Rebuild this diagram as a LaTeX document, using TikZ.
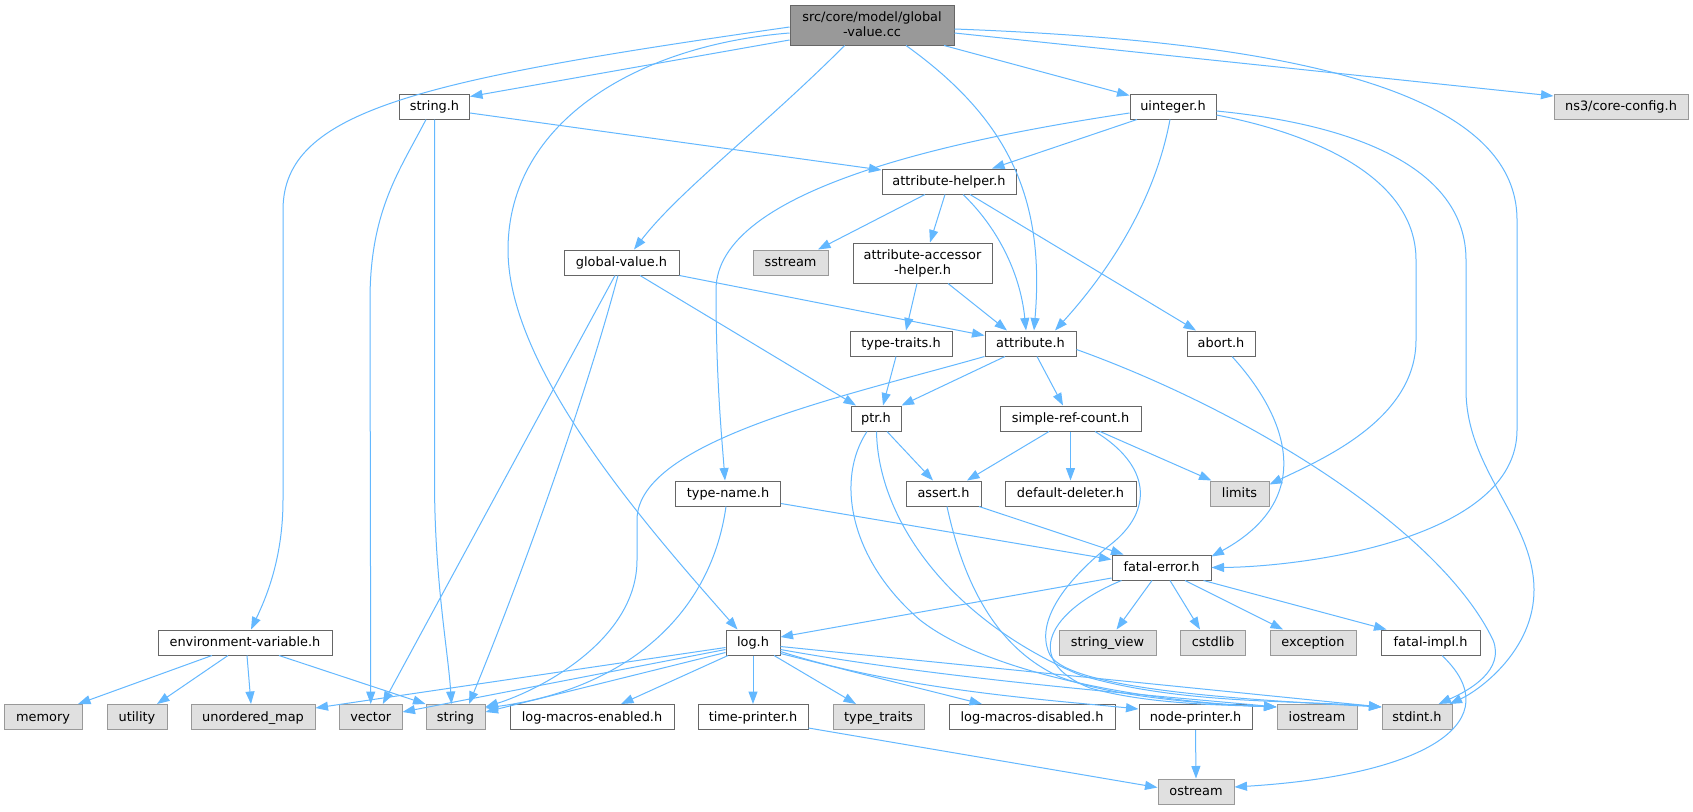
\documentclass[tikz,border=0pt]{standalone}
\usepackage{fontspec}
\setmainfont{DejaVu Sans}
\usetikzlibrary{arrows.meta}
\definecolor{edgec}{HTML}{63B8FF}
\definecolor{nodeb}{HTML}{666666}
\definecolor{grayb}{HTML}{999999}
\definecolor{grayf}{HTML}{E0E0E0}
\definecolor{mainf}{HTML}{999999}
\begin{document}
\begin{tikzpicture}[x=1pt,y=-1pt,
  box/.style={draw=nodeb, fill=white, line width=1pt, inner sep=0pt,
    minimum height=25pt, font=\fontsize{12.9}{15.5}\selectfont,
    text height=10.5pt, text depth=2.5pt},
  sys/.style={box, draw=grayb, fill=grayf},
  twoline/.style={box, minimum height=40pt, align=center, text height=26pt, text depth=2.5pt},
  edge/.style={draw=edgec, line width=1pt, -{Triangle[length=12.5pt,width=9pt]}}]
\useasboundingbox[fill=white] (0,0) rectangle (1693,811);
% nodes
\node[twoline, fill=mainf, minimum width=164pt] (main) at (872,25) {src/core/model/global\\-value.cc};
\node[box, minimum width=70pt] (stringh) at (434.5,106.5) {string.h};
\node[box, minimum width=86pt] (uinteger) at (1173,106.5) {uinteger.h};
\node[sys, minimum width=134pt] (ns3) at (1621,106.5) {ns3/core-config.h};
\node[box, minimum width=134pt] (attrhelper) at (949,181.5) {attribute-helper.h};
\node[box, minimum width=115pt] (globalvalue) at (621.5,262.5) {global-value.h};
\node[sys, minimum width=75pt] (sstream) at (790.5,262.5) {sstream};
\node[twoline, minimum width=139pt] (accessor) at (922.5,263) {attribute-accessor\\-helper.h};
\node[box, minimum width=102pt] (typetraits) at (901,343.5) {type-traits.h};
\node[box, minimum width=91pt] (attribute) at (1030.5,343.5) {attribute.h};
\node[box, minimum width=68pt] (abort) at (1221,343.5) {abort.h};
\node[box, minimum width=50pt] (ptr) at (876,418.5) {ptr.h};
\node[box, minimum width=141pt] (simpleref) at (1070.5,418.5) {simple-ref-count.h};
\node[box, minimum width=105pt] (typename) at (728,493.5) {type-name.h};
\node[box, minimum width=75pt] (assert) at (943.5,493.5) {assert.h};
\node[box, minimum width=131pt] (deleter) at (1070.5,493.5) {default-deleter.h};
\node[sys, minimum width=59pt] (limits) at (1239.5,493.5) {limits};
\node[box, minimum width=99pt] (fatalerror) at (1161.5,567.5) {fatal-error.h};
\node[box, minimum width=174pt] (envvar) at (245,642.5) {environment-variable.h};
\node[box, minimum width=54pt] (logh) at (753,642.5) {log.h};
\node[sys, minimum width=97pt] (stringview) at (1107.5,642.5) {string\_view};
\node[sys, minimum width=65pt] (cstdlib) at (1213,642.5) {cstdlib};
\node[sys, minimum width=86pt] (exception) at (1313,642.5) {exception};
\node[box, minimum width=99pt] (fatalimpl) at (1430.5,642.5) {fatal-impl.h};
\node[sys, minimum width=78pt] (memory) at (43,717) {memory};
\node[sys, minimum width=60pt] (utility) at (137,717) {utility};
\node[sys, minimum width=124pt] (umap) at (253,717) {unordered\_map};
\node[sys, minimum width=62.5pt] (vector) at (370.75,717) {vector};
\node[sys, minimum width=59pt] (string) at (455.5,717) {string};
\node[box, minimum width=164pt] (lme) at (592,717) {log-macros-enabled.h};
\node[box, minimum width=110pt] (timeprinter) at (753,717) {time-printer.h};
\node[sys, minimum width=91pt] (typetraitsstd) at (878.5,717) {type\_traits};
\node[box, minimum width=166pt] (lmd) at (1032,717) {log-macros-disabled.h};
\node[box, minimum width=113pt] (nodeprinter) at (1195.5,717) {node-printer.h};
\node[sys, minimum width=80pt] (iostream) at (1317,717) {iostream};
\node[sys, minimum width=70pt] (stdint) at (1417,717) {stdint.h};
\node[sys, minimum width=76pt] (ostream) at (1196,791.5) {ostream};
% main
\draw[edge] ([yshift=-15pt]main.west) -- ([yshift=-3pt]stringh.north east);
\draw[edge] ([yshift=-2pt]main.west) .. controls (420,80) and (283,110) .. (283,210) -- (283,500) .. controls (283,560) and (265,600) .. ([xshift=6pt]envvar.north);
\draw[edge] ([yshift=-8pt]main.west) .. controls (640,45) and (508,120) .. (508,250) .. controls (508,370) and (650,530) .. ([xshift=-15.5pt]logh.north);
\draw[edge] ([xshift=-27.3pt]main.south) .. controls (760,130) and (680,190) .. ([xshift=12.5pt]globalvalue.north);
\draw[edge] ([xshift=34pt]main.south) .. controls (1010,120) and (1045,200) .. ([xshift=3.5pt]attribute.north);
\draw[edge] ([xshift=72pt]main.south) -- ([yshift=-2pt]uinteger.north west);
\draw[edge] ([yshift=-8pt]main.east) -- ([yshift=10.5pt]ns3.west);
\draw[edge] ([yshift=-4pt]main.east) .. controls (1250,40) and (1517,80) .. (1517,220) -- (1517,430) .. controls (1517,540) and (1300,567) .. (fatalerror.east);
% uinteger
\draw[edge] ([yshift=-6.5pt]uinteger.west) .. controls (950,140) and (716,190) .. (716,290) .. controls (716,380) and (722,440) .. ([xshift=-3pt]typename.north);
\draw[edge] ([xshift=-36pt]uinteger.south) -- ([xshift=43pt]attrhelper.north);
\draw[edge] ([xshift=-3pt]uinteger.south) .. controls (1155,200) and (1110,270) .. ([xshift=24.5pt]attribute.north);
\draw[edge] ([yshift=-8.5pt]uinteger.east) .. controls (1320,135) and (1416,180) .. (1416,260) -- (1416,340) .. controls (1416,420) and (1320,460) .. ([yshift=-4pt]limits.north east);
\draw[edge] ([yshift=-4.5pt]uinteger.east) .. controls (1360,125) and (1466,170) .. (1466,260) -- (1466,390) .. controls (1466,470) and (1534,520) .. (1534,590) .. controls (1534,650) and (1480,690) .. ([xshift=-3pt]stdint.north east);
% string.h
\draw[edge] ([yshift=-6.5pt]stringh.east) -- ([yshift=11.5pt]attrhelper.west);
\draw[edge] ([xshift=-8.5pt]stringh.south) .. controls (400,170) and (370,210) .. (370,300) -- (vector.north);
\draw[edge] (stringh.south) -- (434.5,480) .. controls (434.5,580) and (448,650) .. ([xshift=-4pt]string.north);
% attribute-helper.h
\draw[edge] ([xshift=-24pt]attrhelper.south) -- ([xshift=27.5pt]sstream.north);
\draw[edge] ([xshift=-4pt]attrhelper.south) -- ([xshift=7.5pt]accessor.north);
\draw[edge] ([xshift=14pt]attrhelper.south) .. controls (995,225) and (1020,270) .. ([xshift=-4.5pt]attribute.north);
\draw[edge] ([xshift=21pt]attrhelper.south) -- ([xshift=-25pt]abort.north);
% accessor
\draw[edge] ([xshift=-5.5pt]accessor.south) -- ([xshift=5pt]typetraits.north);
\draw[edge] ([xshift=25.5pt]accessor.south) -- ([xshift=-23.5pt]attribute.north);
% global-value.h
\draw[edge] (globalvalue.south east) -- ([yshift=8pt]attribute.west);
\draw[edge] ([xshift=18.5pt]globalvalue.south) -- ([xshift=-20pt]ptr.north);
\draw[edge] ([xshift=-6.5pt]globalvalue.south) -- ([xshift=12pt]vector.north);
\draw[edge] ([xshift=-3.5pt]globalvalue.south) .. controls (585,400) and (520,580) .. ([xshift=13.5pt]string.north);
% type-traits.h
\draw[edge] ([xshift=-5pt]typetraits.south) -- ([xshift=7pt]ptr.north);
% attribute.h
\draw[edge] ([xshift=-25.5pt]attribute.south) -- (ptr.north east);
\draw[edge] (attribute.south west) .. controls (850,395) and (637,440) .. (637,520) -- (637,560) .. controls (637,640) and (540,690) .. ([yshift=-3pt]string.north east);
\draw[edge] ([xshift=6.5pt]attribute.south) -- ([xshift=-7.5pt]simpleref.north);
\draw[edge] ([yshift=-6pt]attribute.east) .. controls (1250,412) and (1440,530) .. (1493,640) .. controls (1505,670) and (1470,690) .. ([xshift=-14pt]stdint.north east);
% ptr.h
\draw[edge] ([xshift=11pt]ptr.south) -- ([xshift=-10.5pt]assert.north);
\draw[edge] ([xshift=-9pt]ptr.south) .. controls (835,480) and (850,560) .. (920,620) .. controls (990,675) and (1150,702) .. ([yshift=-3pt]iostream.north west);
\draw[edge] ([xshift=0.5pt]ptr.south) .. controls (878,520) and (950,620) .. (1080,675) .. controls (1180,705) and (1300,700) .. ([yshift=-3pt]stdint.north west);
% simple-ref-count.h
\draw[edge] ([xshift=-21.5pt]simpleref.south) -- ([xshift=23.5pt]assert.north);
\draw[edge] (simpleref.south) -- (deleter.north);
\draw[edge] ([xshift=29.5pt]simpleref.south) -- ([xshift=2pt]limits.north west);
\draw[edge] ([xshift=24.5pt]simpleref.south) .. controls (1150,465) and (1155,510) .. (1110,545) .. controls (1060,585) and (1035,625) .. (1050,655) .. controls (1070,690) and (1250,700) .. ([yshift=-3pt]stdint.north west);
% assert.h
\draw[edge] ([xshift=35.5pt]assert.south) -- ([xshift=-38pt]fatalerror.north);
\draw[edge] ([xshift=3.5pt]assert.south) .. controls (965,590) and (1000,650) .. (1060,677) .. controls (1120,700) and (1230,705) .. ([yshift=-3pt]iostream.north west);
% type-name.h
\draw[edge] ([yshift=-10pt]typename.east) -- ([yshift=8pt]fatalerror.west);
\draw[edge] ([xshift=-2pt]typename.south) .. controls (710,620) and (620,690) .. ([yshift=-4pt]string.north east);
% fatal-error.h
\draw[edge] ([yshift=-10.5pt]fatalerror.west) -- ([yshift=5.5pt]logh.east);
\draw[edge] ([xshift=-9.5pt]fatalerror.south) -- ([xshift=9pt]stringview.north);
\draw[edge] ([xshift=8.5pt]fatalerror.south) -- ([xshift=-13pt]cstdlib.north);
\draw[edge] ([xshift=23.5pt]fatalerror.south) -- ([xshift=-30pt]exception.north);
\draw[edge] ([xshift=-8pt]fatalerror.south east) -- ([xshift=-44pt]fatalimpl.north);
\draw[edge] ([xshift=10pt]fatalerror.south west) .. controls (1050,610) and (1020,660) .. (1090,688) .. controls (1150,705) and (1230,705) .. ([yshift=-3pt]iostream.north west);
% fatal-impl.h
\draw[edge] ([xshift=11.5pt]fatalimpl.south) .. controls (1510,720) and (1430,775) .. ([yshift=4.5pt]ostream.east);
% abort.h
\draw[edge] ([xshift=11pt]abort.south) .. controls (1290,420) and (1315,500) .. ([yshift=-2pt]fatalerror.north east);
% log.h
\draw[edge] ([yshift=-5pt]logh.west) -- ([yshift=9pt]umap.east);
\draw[edge] ([yshift=-7pt]logh.west) -- ([yshift=5pt]vector.east);
\draw[edge] ([yshift=-10pt]logh.west) -- ([yshift=5pt]string.east);
\draw[edge] ([xshift=-25pt]logh.south) -- ([xshift=29pt]lme.north);
\draw[edge] (logh.south) -- (timeprinter.north);
\draw[edge] ([xshift=21pt]logh.south) -- ([xshift=-22.5pt]typetraitsstd.north);
\draw[edge] ([yshift=-11pt]logh.east) -- ([xshift=-50pt]lmd.north);
\draw[edge] ([yshift=-9pt]logh.east) .. controls (900,690) and (1050,700) .. ([yshift=-5pt]nodeprinter.north west);
\draw[edge] ([yshift=-7pt]logh.east) .. controls (950,680) and (1150,695) .. ([yshift=-3pt]iostream.north west);
\draw[edge] ([yshift=-4pt]logh.east) -- ([yshift=-3pt]stdint.north west);
% printers
\draw[edge] ([yshift=-11pt]timeprinter.east) -- ([yshift=4pt]ostream.west);
\draw[edge] (nodeprinter.south) -- (ostream.north);
% environment-variable.h
\draw[edge] ([xshift=-33pt]envvar.south) -- ([xshift=35pt]memory.north);
\draw[edge] ([xshift=-17pt]envvar.south) -- ([xshift=20pt]utility.north);
\draw[edge] ([xshift=2pt]envvar.south) -- ([xshift=-2pt]umap.north);
\draw[edge] ([xshift=34pt]envvar.south) -- (string.north west);
\end{tikzpicture}
\end{document}
